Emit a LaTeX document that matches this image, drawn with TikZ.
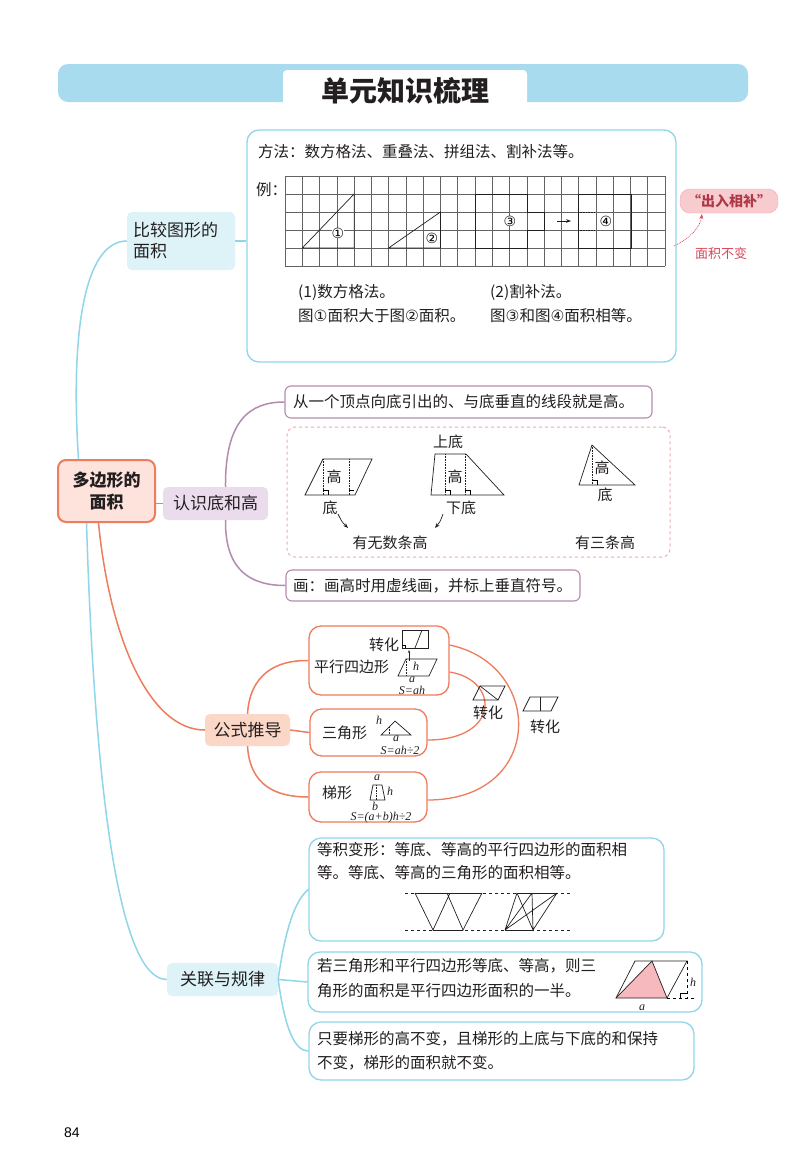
\documentclass[tikz,border=0pt]{standalone}
\usepackage{fontspec}
\setmainfont{Noto Sans CJK SC}
\newfontfamily\sym{DejaVu Sans}
\newfontfamily\itfont{Liberation Serif}
\newfontfamily\pgfont{Liberation Sans}
\usetikzlibrary{arrows.meta}
\definecolor{cy}{HTML}{8FD6EA}
\definecolor{cyf}{HTML}{DDF3F8}
\definecolor{bar}{HTML}{A9DBEF}
\definecolor{pu}{HTML}{B48BB0}
\definecolor{puf}{HTML}{EADCEC}
\definecolor{or}{HTML}{EF7C5C}
\definecolor{orf}{HTML}{FBD7C8}
\definecolor{mf}{HTML}{FDE3DC}
\definecolor{rd}{HTML}{D9485A}
\definecolor{pk}{HTML}{F4A9AE}
\definecolor{txt}{HTML}{231F20}
\tikzset{
  t/.style={anchor=west,inner sep=0pt,font=\fontsize{15.5}{15.5}\selectfont,text=txt},
  tc/.style={inner sep=0pt,font=\fontsize{15}{15}\selectfont,text=txt},
  it/.style={inner sep=0pt,font=\itfont\itshape\fontsize{12}{12}\selectfont,text=txt},
  fig/.style={line width=0.7pt,draw=txt},
  dot/.style={line width=0.6pt,draw=txt,densely dotted},
  cbox/.style={draw=cy,line width=1.3pt,rounded corners=12pt},
  pbox/.style={draw=pu,line width=1.1pt,rounded corners=6pt},
  obox/.style={draw=or,line width=1.3pt,rounded corners=12pt},
  lbl/.style={rounded corners=5pt,font=\fontsize{17}{21}\selectfont,text=txt,align=left,inner sep=0pt},
}
\begin{document}
\begin{tikzpicture}[x=1pt,y=-1pt]
\useasboundingbox[fill=white] (0,0) rectangle (800,1173);
% title
\fill[bar,rounded corners=10pt] (58,64) rectangle (748,102);
\fill[white,rounded corners=4pt] (283,70) rectangle (527,112);
\node[inner sep=0pt,font=\fontsize{28}{28}\selectfont\bfseries,text=txt] (title) at (405,91) {单元知识梳理};
% main node
\node[draw=or,line width=2pt,fill=mf,rounded corners=8pt,minimum width=97pt,minimum height=62pt,font=\fontsize{17}{22}\selectfont\bfseries,align=center,text=txt] (main) at (106.5,491) {多边形的\\面积};
% ---------- branch 1
\node[lbl,fill=cyf,minimum width=108pt,minimum height=58pt,text width=96pt] (cmp) at (181,241) {比较图形的\\面积};
\draw[cy,line width=1.5pt] (main.north) ++(-28,0) .. controls (70,330) and (85,241) .. (cmp.west);
\node[cbox,minimum width=429pt,minimum height=232pt] (b1) at (461.5,246) {};
\draw[cy,line width=1.5pt] (cmp.east) -- (b1.west |- cmp.east);
\node[t] (m1) at (258,152) {方法：数方格法、重叠法、拼组法、割补法等。};
\node[t] (e1) at (256,190) {例：};
\foreach \i in {0,...,22} \draw[txt!70,line width=0.5pt] (285+17.27*\i,176) -- (285+17.27*\i,266);
\foreach \j in {0,...,5} \draw[txt!70,line width=0.5pt] (285,176+18*\j) -- (665,176+18*\j);
\draw[fig] (302.3,248) -- (354.1,194) -- (354.1,248) -- cycle;
\draw[fig] (388.6,248) -- (440.4,212) -- (440.4,248) -- cycle;
\draw[fig] (475,194) -- (527,194) -- (527,212) -- (544,212) -- (544,230) -- (527,230) -- (527,248) -- (475,248) -- cycle;
\draw[fig] (578,194) rectangle (631,248);
\draw[dot] (578,212) -- (595,212) (578,230) -- (595,230);
\draw[-{Stealth[length=5pt]},line width=0.8pt,txt] (557,221) -- (571,221);
\node[inner sep=0pt,fill=white,font=\sym\fontsize{14}{14}\selectfont] (n1) at (338,233) {①};
\node[inner sep=0pt,fill=white,font=\sym\fontsize{14}{14}\selectfont] (n2) at (432,238) {②};
\node[inner sep=0pt,fill=white,font=\sym\fontsize{14}{14}\selectfont] (n3) at (510,221) {③};
\node[inner sep=0pt,fill=white,font=\sym\fontsize{14}{14}\selectfont] (n4) at (606,221) {④};
\node[t] (s1) at (298,292) {(1)数方格法。};
\node[t] (s2) at (490,292) {(2)割补法。};
\node[t] (s3) at (298,316) {图{\sym ①}面积大于图{\sym ②}面积。};
\node[t] (s4) at (490,316) {图{\sym ③}和图{\sym ④}面积相等。};
\node[fill=pk!60,draw=pk,rounded corners=10pt,minimum width=98pt,minimum height=24pt,inner sep=0pt,font=\fontsize{14}{14}\selectfont\bfseries,text=rd!80!black] (cr) at (729,201) {“出入相补”};
\node[inner sep=0pt,font=\fontsize{13}{13}\selectfont,text=rd] (mj) at (721,254) {面积不变};
\coordinate (cs) at (674,246);
\coordinate (ce) at (702,214);
\draw[rd,densely dotted,line width=0.8pt,-{Stealth[length=5pt]}] (cs) .. controls (690,238) and (700,228) .. (ce);
% ---------- branch 2
\node[lbl,fill=puf,minimum width=105pt,minimum height=33pt,align=center] (rs) at (215.5,503.5) {认识底和高};
\draw[pu,line width=1.5pt] (main.east |- rs.west) -- (rs.west);
\node[pbox,minimum width=367pt,minimum height=32pt] (p1) at (468.5,402) {};
\node[t] (p1t) at (293,402) {从一个顶点向底引出的、与底垂直的线段就是高。};
\node[pbox,minimum width=294pt,minimum height=31pt] (p3) at (433,585.5) {};
\node[t] (p3t) at (293,585.5) {画：画高时用虚线画，并标上垂直符号。};
\draw[pu,line width=1.5pt] (rs.north) ++(10,0) .. controls (225,420) and (250,402) .. (p1.west);
\draw[pu,line width=1.5pt] (rs.south) ++(10,0) .. controls (225,570) and (250,585.5) .. (p3.west);
\node[draw=pk,dashed,line width=1pt,rounded corners=8pt,minimum width=383pt,minimum height=130pt] (db) at (478.5,492) {};
% parallelogram
\draw[fig] (305,495) -- (323,459) -- (372,459) -- (355,495) -- cycle;
\draw[dot] (323,459) -- (323,495) (349,459) -- (349,495);
\draw[line width=0.5pt] (323,490) -- (328,490) -- (328,495) (349,490) -- (354,490);
\node[tc] (g1) at (334,477) {高};
\node[tc] (d1) at (330,508) {底};
\draw[fig,-{Stealth[length=5pt]}] (338,514) .. controls (342,522) .. (348,528);
% trapezoid
\draw[fig] (431,495) -- (435,454) -- (466,454) -- (504,495) -- cycle;
\draw[dot] (445,454) -- (445,495) (465,454) -- (465,495);
\draw[line width=0.5pt] (445,490) -- (450,490) -- (450,495) (465,490) -- (470,490) -- (470,495);
\node[tc] (st) at (448,442) {上底};
\node[tc] (g2) at (455,477) {高};
\node[tc] (xd) at (461,508) {下底};
\draw[fig,-{Stealth[length=5pt]}] (443,514) .. controls (440,522) .. (435,528);
% triangle
\draw[fig] (592,445) -- (579,485) -- (635,485) -- cycle;
\draw[dot] (592,445) -- (592,485);
\draw[line width=0.5pt] (592,480) -- (597,480) -- (597,485);
\node[tc] (g3) at (602,468) {高};
\node[tc] (d3) at (605,495) {底};
\node[tc] (wx) at (390,543) {有无数条高};
\node[tc] (ss) at (605,543) {有三条高};
% ---------- branch 3
\node[lbl,fill=orf,minimum width=85pt,minimum height=32pt,align=center] (gs) at (247.5,730) {公式推导};
\draw[or,line width=1.5pt] (main.south) ++(-8,0) .. controls (110,640) and (150,730) .. (gs.west);
\node[obox,minimum width=140pt,minimum height=69pt] (o1) at (379,660.5) {};
\node[obox,minimum width=117pt,minimum height=47pt] (o2) at (368.5,732.5) {};
\node[obox,minimum width=118pt,minimum height=50pt] (o3) at (368,797) {};
\draw[or,line width=1.5pt] (gs.north) .. controls (250,675) and (275,660) .. (o1.west);
\draw[or,line width=1.5pt] (gs.south) .. controls (250,785) and (275,797) .. (o3.west);
\draw[or,line width=1.5pt] (gs.east) -- (o2.west);
\draw[or,line width=1.3pt] (o1.east |- 0,672) .. controls (500,680) and (500,740) .. (o2.east |- 0,740);
\draw[or,line width=1.3pt] (o1.east |- 0,645) .. controls (545,665) and (545,800) .. (o3.east |- 0,800);
% box o1 content
\node[tc] (zh1) at (384,645) {转化};
\draw[fig] (402,630) rectangle (428,648);
\draw[fig] (422,630) -- (415,648);
\draw[line width=0.4pt] (402,645) -- (405,645) -- (405,648);
\draw[fig,-{Stealth[length=3pt]}] (409,661) -- (409,650);
\node[tc,anchor=west] (px) at (314,667) {平行四边形};
\draw[fig] (398,676) -- (406,659) -- (437,659) -- (429,676) -- cycle;
\draw[dot] (406,659) -- (406,676);
\node[it] (h1) at (416,666) {h};
\node[it] (a1) at (412,680) {a};
\node[it] (sa) at (412,690) {S=ah};
% transforms
\draw[fig] (473,700) -- (480,686) -- (505,686) -- (498,700) -- cycle;
\draw[fig] (480,686) -- (498,700);
\node[tc] (zh2) at (488,713) {转化};
\draw[fig] (523,711) -- (530,697) -- (558,697) -- (551,711) -- cycle;
\draw[fig] (540,697) -- (540,711);
\node[tc] (zh3) at (545,727) {转化};
% box o2
\node[tc,anchor=west] (sj) at (322,733) {三角形};
\draw[fig] (381,735) -- (395,721) -- (411,735) -- cycle;
\draw[dot] (389,727) -- (389,735);
\node[it] (h2) at (379,720) {h};
\node[it] (a2) at (396,739) {a};
\node[it] (s2f) at (400,750) {S=ah÷2};
% box o3
\node[tc,anchor=west] (tx) at (322,793) {梯形};
\draw[fig] (370,800) -- (373,785) -- (382,785) -- (385,800) -- cycle;
\draw[dot] (376,785) -- (376,800);
\node[it] (a3) at (377,778) {a};
\node[it] (h3) at (390,791) {h};
\node[it] (b3) at (375,806) {b};
\node[it] (s3f) at (381,818) {S=(a+b)h÷2};
% ---------- branch 4
\node[lbl,fill=cyf,minimum width=111pt,minimum height=33pt,align=center] (gl) at (222.5,979.5) {关联与规律};
\draw[cy,line width=1.5pt] (main.south) ++(-20,0) .. controls (95,800) and (120,979.5) .. (gl.west);
\node[cbox,minimum width=355pt,minimum height=103pt] (c1) at (486.5,889.5) {};
\node[cbox,minimum width=394pt,minimum height=60pt] (c2) at (505,982) {};
\node[cbox,minimum width=385pt,minimum height=58pt] (c3) at (501.5,1051) {};
\draw[cy,line width=1.5pt] (gl.east) .. controls (285,930) and (295,900) .. (c1.west);
\draw[cy,line width=1.5pt] (gl.east) -- (c2.west);
\draw[cy,line width=1.5pt] (gl.east) .. controls (285,1030) and (295,1051) .. (c3.west);
\node[t] (c1a) at (317,850) {等积变形：等底、等高的平行四边形的面积相};
\node[t] (c1b) at (317,873) {等。等底、等高的三角形的面积相等。};
\draw[dashed,line width=0.6pt,txt] (405,893) -- (570,893) (405,930) -- (570,930);
\draw[fig] (415,893) -- (482,893) (433,930) -- (463,930);
\draw[fig] (415,893) -- (433,930) -- (450,893) (447,893) -- (463,930) -- (482,893);
\draw[fig] (517,893) -- (557,893) (505,930) -- (533,930);
\draw[fig] (505,930) -- (517,893) (505,930) -- (532,893) (505,930) -- (557,893) (533,930) -- (517,893) (533,930) -- (532,893) (533,930) -- (557,893);
\node[t] (c2a) at (317,966) {若三角形和平行四边形等底、等高，则三};
\node[t] (c2b) at (317,991) {角形的面积是平行四边形面积的一半。};
\fill[pk!80] (616,998) -- (652,961) -- (667,998) -- cycle;
\draw[fig] (616,998) -- (635,961) -- (687,961) -- (667,998) -- cycle;
\draw[fig] (616,998) -- (652,961) -- (667,998);
\draw[dashed,line width=0.6pt] (687,961) -- (687,998) (667,998) -- (695,998);
\draw[line width=0.5pt] (680,998) -- (680,993) -- (687,993);
\node[it] (hh) at (693,982) {h};
\node[it] (aa) at (642,1008) {a};
\node[t] (c3a) at (317,1039) {只要梯形的高不变，且梯形的上底与下底的和保持};
\node[t] (c3b) at (317,1063) {不变，梯形的面积就不变。};
\node[inner sep=0pt,font=\pgfont\fontsize{14}{14}\selectfont] (pg) at (72,1133) {84};
\end{tikzpicture}
\end{document}
